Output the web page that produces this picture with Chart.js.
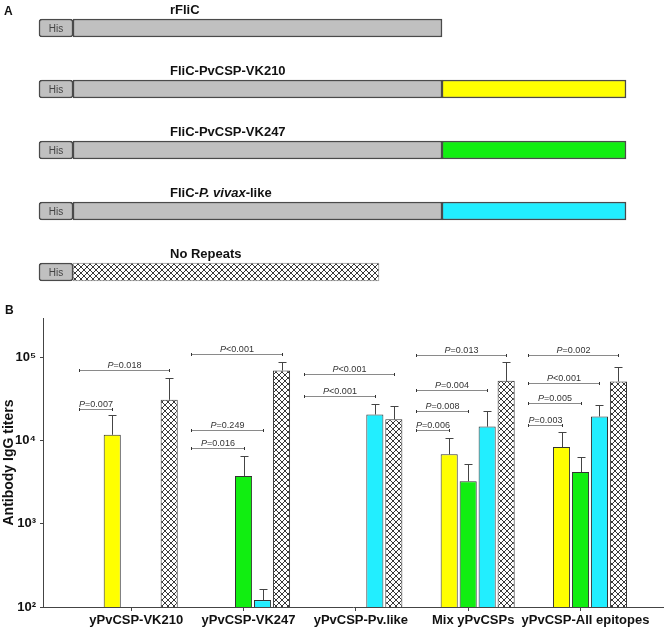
<!DOCTYPE html>
<html>
<head>
<meta charset="utf-8">
<script src="https://cdn.jsdelivr.net/npm/chart.js@4.4.1/dist/chart.umd.min.js"></script>
<style>
  body { margin: 0; background: #fff; width: 668px; height: 631px; position: relative; overflow: hidden; }
  canvas { position: absolute; left: 0; }
  #constructs { top: 0; }
  #titers { top: 300px; }
  .panel { position: absolute; font: bold 12px Arial, "Liberation Sans", sans-serif; color: #111; }
</style>
</head>
<body>
<canvas id="constructs" width="668" height="300"></canvas>
<canvas id="titers" width="668" height="331"></canvas>
<div class="panel" style="left:4px;top:4px">A</div>
<div class="panel" style="left:5px;top:303px">B</div>
<script>
// ---- panel A: constructs (arbitrary length units) ----
const constructs = ['rFliC', 'FliC-PvCSP-VK210', 'FliC-PvCSP-VK247', 'FliC-P. vivax-like', 'No Repeats'];
const hisTag = [[0, 34], [0, 34], [0, 34], [0, 34], [0, 34]];
const flic = [[34, 403], [34, 403], [34, 403], [34, 403], null];
const repeats = [null, [403, 587], [403, 587], [403, 587], null];
const noRepeats = [null, null, null, null, [34, 340]];
const repeatColors = [null, '#ffff00', '#11ee11', '#22eeff', null];

// ---- panel B: antibody titers ----
const groups = ['yPvCSP-VK210', 'yPvCSP-VK247', 'yPvCSP-Pv.like', 'Mix yPvCSPs', 'yPvCSP-All epitopes'];
const vk210 = [11800, null, null, 6870, 8400];
const vk210Err = [20200, null, null, 10900, 12800];
const vk247 = [null, 3770, null, 3260, 4210];
const vk247Err = [null, 6500, null, 5250, 6380];
const pvLike = [null, 121, 20700, 14800, 19600];
const pvLikeErr = [null, 163, 27400, 22700, 26900];
const noRep = [31100, 70000, 18100, 52600, 51600];
const noRepErr = [57700, 88000, 26100, 89700, 76800];
const yTicks = [100, 1000, 10000, 100000];
const yTickLabels = ['10²', '10³', '10⁴', '10⁵'];

// P value brackets: group, target bar (0 yellow,1 green,2 cyan,3 hatched), height, text
const pGroup = [0, 0, 1, 1, 1, 2, 2, 3, 3, 3, 3, 4, 4, 4, 4];
const pTarget = [3, 0, 3, 2, 1, 3, 2, 3, 2, 1, 0, 3, 2, 1, 0];
const pLevel = [71000, 23800, 111000, 13300, 8200, 64000, 34400, 109000, 41000, 22700, 13300, 109000, 49700, 28400, 15600];
const pText = ['=0.018', '=0.007', '<0.001', '=0.249', '=0.016', '<0.001', '<0.001', '=0.013', '=0.004', '=0.008', '=0.006', '=0.002', '<0.001', '=0.005', '=0.003'];

const FONT = 'Arial, "Liberation Sans", sans-serif';

function hatch(size) {
  const c = document.createElement('canvas');
  c.width = size; c.height = size;
  const g = c.getContext('2d');
  g.fillStyle = '#fff';
  g.fillRect(0, 0, size, size);
  g.strokeStyle = '#222';
  g.lineWidth = 0.9;
  g.beginPath();
  g.moveTo(-1, -1); g.lineTo(size + 1, size + 1);
  g.moveTo(size + 1, -1); g.lineTo(-1, size + 1);
  g.stroke();
  return g.createPattern(c, 'repeat');
}
const crossHatch = hatch(6);

const constructLabels = {
  id: 'constructLabels',
  afterDatasetsDraw(chart) {
    const { ctx, scales: { x, y } } = chart;
    ctx.save();
    ctx.textBaseline = 'middle';
    constructs.forEach((name, i) => {
      const cy = y.getPixelForValue(i) - 18;
      let cx = x.getPixelForValue(131);
      const parts = name.includes('P. vivax')
        ? [['FliC-', false], ['P. vivax', true], ['-like', false]]
        : [[name, false]];
      parts.forEach(([t, it]) => {
        ctx.font = (it ? 'italic ' : '') + 'bold 13px ' + FONT;
        ctx.fillStyle = '#111';
        ctx.fillText(t, cx, cy);
        cx += ctx.measureText(t).width;
      });
    });
    ctx.font = '10px ' + FONT;
    ctx.fillStyle = '#444';
    ctx.textAlign = 'center';
    chart.getDatasetMeta(0).data.forEach(bar => {
      ctx.fillText('His', (bar.x + bar.base) / 2, bar.y + 1);
    });
    ctx.restore();
  }
};

new Chart(document.getElementById('constructs'), {
  type: 'bar',
  data: {
    labels: constructs,
    datasets: [
      { data: hisTag, backgroundColor: '#c0c0c0', borderRadius: 3, clip: false },
      { data: flic, backgroundColor: '#c0c0c0', clip: false },
      { data: repeats, backgroundColor: repeatColors, clip: false },
      { data: noRepeats, backgroundColor: crossHatch, borderColor: '#999', borderWidth: 1, clip: false }
    ]
  },
  options: {
    indexAxis: 'y',
    responsive: false,
    animation: false,
    devicePixelRatio: 1,
    grouped: false,
    barThickness: 18,
    borderSkipped: false,
    borderColor: '#4a4a4a',
    borderWidth: 1.5,
    layout: { padding: { top: 28, bottom: 28, left: 0, right: 0 } },
    plugins: { legend: { display: false }, tooltip: { enabled: false } },
    scales: {
      x: { type: 'linear', min: -39, max: 629, display: false },
      y: { type: 'category', offset: false, display: false }
    }
  },
  plugins: [constructLabels]
});

const errs = [vk210Err, vk247Err, pvLikeErr, noRepErr];

const errorBars = {
  id: 'errorBars',
  afterDatasetsDraw(chart) {
    const { ctx, scales: { x, y } } = chart;
    ctx.save();
    ctx.strokeStyle = '#444';
    ctx.lineWidth = 1;
    errs.forEach((e, di) => {
      chart.getDatasetMeta(di).data.forEach((bar, i) => {
        if (e[i] == null) return;
        const top = Math.round(y.getPixelForValue(e[i])) + 0.5;
        const cx = Math.round(bar.x) + 0.5;
        ctx.beginPath();
        ctx.moveTo(cx, bar.y);
        ctx.lineTo(cx, top);
        ctx.moveTo(cx - 4, top);
        ctx.lineTo(cx + 4, top);
        ctx.stroke();
      });
    });

    // significance brackets
    ctx.textBaseline = 'alphabetic';
    pGroup.forEach((g, k) => {
      const bar = chart.getDatasetMeta(pTarget[k]).data[g];
      const x0 = Math.round(x.getPixelForValue(g - 0.55)) + 0.5;
      const x1 = Math.round(bar.x) + 0.5;
      const yy = Math.round(y.getPixelForValue(pLevel[k])) + 0.5;
      ctx.strokeStyle = '#8a8a8a';
      ctx.beginPath();
      ctx.moveTo(x0, yy); ctx.lineTo(x1, yy);
      ctx.stroke();
      ctx.strokeStyle = '#333';
      ctx.beginPath();
      ctx.moveTo(x0, yy - 1.5); ctx.lineTo(x0, yy + 1.5);
      ctx.moveTo(x1, yy - 1.5); ctx.lineTo(x1, yy + 1.5);
      ctx.stroke();
      ctx.font = 'italic 9px ' + FONT;
      const wP = ctx.measureText('P').width;
      ctx.font = '9px ' + FONT;
      const wT = ctx.measureText(pText[k]).width;
      const tx = (x0 + x1) / 2 - (wP + wT) / 2;
      ctx.fillStyle = '#333';
      ctx.font = 'italic 9px ' + FONT;
      ctx.fillText('P', tx, yy - 3);
      ctx.font = '9px ' + FONT;
      ctx.fillText(pText[k], tx + wP, yy - 3);
    });

    // group names under the axis
    ctx.font = 'bold 13px ' + FONT;
    ctx.fillStyle = '#111';
    ctx.textAlign = 'center';
    ctx.textBaseline = 'top';
    groups.forEach((g, i) => {
      ctx.fillText(g, x.getPixelForValue(i - 0.04), x.top + 7);
    });
    ctx.restore();
  }
};

const pts = arr => arr.map((v, i) => ({ x: i, y: v }));

new Chart(document.getElementById('titers'), {
  type: 'bar',
  data: {
    datasets: [
      { label: 'VK210', data: pts(vk210), backgroundColor: '#ffff00' },
      { label: 'VK247', data: pts(vk247), backgroundColor: '#11ee11' },
      { label: 'P. vivax-like', data: pts(pvLike), backgroundColor: '#22eeff' },
      { label: 'No repeats', data: pts(noRep), backgroundColor: crossHatch }
    ]
  },
  options: {
    responsive: false,
    animation: false,
    devicePixelRatio: 1,
    categoryPercentage: 0.676,
    barPercentage: 0.9,
    borderColor: '#333',
    borderWidth: 1,
    layout: { padding: { top: 18, right: 5, left: 0, bottom: 0 } },
    plugins: { legend: { display: false }, tooltip: { enabled: false } },
    scales: {
      x: {
        type: 'linear',
        min: -0.87,
        max: 4.65,
        offset: false,
        afterBuildTicks: ax => { ax.ticks = groups.map((g, i) => ({ value: i - 0.085 })); },
        afterFit: ax => { ax.height = 24; },
        ticks: { display: false },
        grid: { offset: false, drawOnChartArea: false, tickLength: 4, color: '#444' },
        border: { color: '#444' }
      },
      y: {
        type: 'logarithmic',
        min: 100,
        max: 300000,
        afterBuildTicks: ax => { ax.ticks = yTicks.map(v => ({ value: v })); },
        afterFit: ax => { ax.width = 43; },
        ticks: {
          callback: (v, i) => yTickLabels[i],
          padding: 4,
          color: '#111',
          font: { family: FONT, weight: 'bold', size: 13 }
        },
        title: {
          display: true,
          text: 'Antibody IgG titers',
          color: '#111',
          font: { family: FONT, weight: 'bold', size: 14 },
          padding: { top: 1, bottom: 0 }
        },
        grid: { drawOnChartArea: false, tickLength: 3, color: '#444' },
        border: { color: '#444' }
      }
    }
  },
  plugins: [errorBars]
});
</script>
</body>
</html>
